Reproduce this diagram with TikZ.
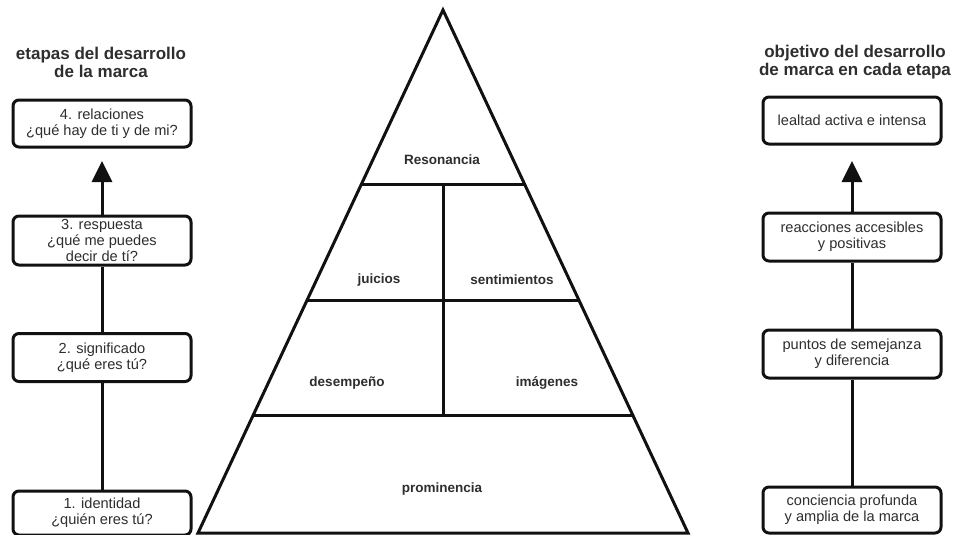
\documentclass[tikz,border=0pt]{standalone}
\usepackage{fontspec}
\setmainfont{Liberation Sans}
\usetikzlibrary{arrows.meta}
\definecolor{ink}{HTML}{111111}
\definecolor{txt}{HTML}{2E2E2E}
\begin{document}
\begin{tikzpicture}[x=1pt,y=-1pt,
  stagebox/.style={draw=ink, line width=3pt, rounded corners=6pt, fill=white,
    minimum width=178pt, inner sep=0pt, align=center, text=txt,
    font=\fontsize{14.6}{16.3}\selectfont},
  heading/.style={align=center, text=txt, font=\fontsize{17}{18}\selectfont\bfseries},
  level/.style={text=txt, font=\fontsize{13.5}{15}\selectfont\bfseries},
  link/.style={draw=ink, line width=3pt},
  up/.style={link, -{Triangle[length=21pt,width=20pt]}},
  pyr/.style={draw=ink, line width=3pt}]
\useasboundingbox (0,0) rectangle (956,535);
\fill[white] (0,0) rectangle (956,535);

% column headings
\node[heading] (lefthead) at (101,62) {etapas del desarrollo\\de la marca};
\node[heading] (righthead) at (855,62) {objetivo del desarrollo\\de marca en cada etapa};

% stages of brand building
\node[stagebox, minimum height=47pt] (s4) at (102,123.5) {4. relaciones\\¿qué hay de ti y de mi?};
\node[stagebox, minimum height=49pt] (s3) at (102,240.5) {3. respuesta\\¿qué me puedes\\decir de tí?};
\node[stagebox, minimum height=48pt] (s2) at (102,357.5) {2. significado\\¿qué eres tú?};
\node[stagebox, minimum height=44pt] (s1) at (102,513) {1. identidad\\¿quién eres tú?};

% brand objectives at each stage
\node[stagebox, minimum height=47pt] (o4) at (852,120.5) {lealtad activa e intensa};
\node[stagebox, minimum height=48pt] (o3) at (852,237) {reacciones accesibles\\y positivas};
\node[stagebox, minimum height=48pt] (o2) at (852,354) {puntos de semejanza\\y diferencia};
\node[stagebox, minimum height=46pt] (o1) at (852,510) {conciencia profunda\\y amplia de la marca};

% connectors
\coordinate (s4tip) at (102,161);
\coordinate (o4tip) at (852,161);
\draw[link] (s1.north) -- (s2.south);
\draw[link] (s2.north) -- (s3.south);
\draw[up] (s3.north) -- (s4tip);
\draw[link] (o1.north) -- (o2.south);
\draw[link] (o2.north) -- (o3.south);
\draw[up] (o3.north) -- (o4tip);

% brand resonance pyramid
\draw[pyr, line join=miter] (443,10) -- (688,533) -- (198,533) -- cycle;
\draw[pyr] (362,184) -- (524,184);
\draw[pyr] (307.5,300) -- (578.5,300);
\draw[pyr] (253.5,415) -- (632.5,415);
\draw[pyr] (443,184) -- (443,415);

\node[level] (resonancia) at (442,160) {Resonancia};
\node[level] (juicios) at (379,280) {juicios};
\node[level] (sentimientos) at (512,280) {sentimientos};
\node[level] (desempeno) at (347,383) {desempeño};
\node[level] (imagenes) at (547,383) {imágenes};
\node[level] (prominencia) at (442,489) {prominencia};
\end{tikzpicture}
\end{document}
